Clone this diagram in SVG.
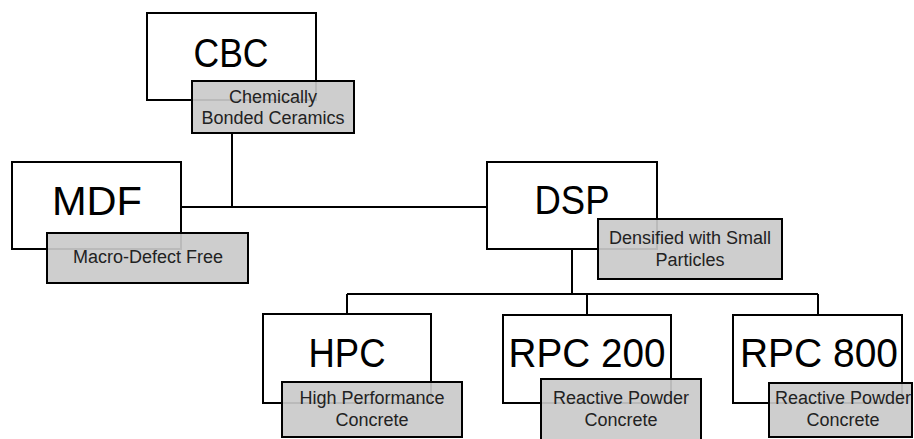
<svg xmlns="http://www.w3.org/2000/svg" width="914" height="439" viewBox="0 0 914 439">
<style>
.box{fill:#fff;stroke:#000;stroke-width:2}
.lab{fill:#cacaca;fill-opacity:0.92;stroke:#000;stroke-width:2}
.big{font-family:"Liberation Sans",Arial,sans-serif;font-size:40px;fill:#000;text-anchor:middle}
.sm{font-family:"Liberation Sans",Arial,sans-serif;font-size:18px;fill:#222;text-anchor:middle}
.con{fill:none;stroke:#000;stroke-width:2}
</style>
<rect width="914" height="439" fill="#fff"/>
<g id="connectors">
<path class="con" d="M232 133V207M181 207H487"/>
<path class="con" d="M572 249V294M347 294H818M347 294V315M587 294V315M818 294V315"/>
</g>
<g id="CBC">
<rect class="box" x="147" y="13" width="169" height="87"/>
<text class="big" x="231" y="67" textLength="75" lengthAdjust="spacingAndGlyphs">CBC</text>
<rect class="lab" x="192" y="81" width="162" height="52"/>
<text class="sm" x="273" y="103">Chemically</text>
<text class="sm" x="273" y="124">Bonded Ceramics</text>
</g>
<g id="MDF">
<rect class="box" x="12" y="162" width="169" height="87"/>
<text class="big" x="97" y="215" textLength="90" lengthAdjust="spacingAndGlyphs">MDF</text>
<rect class="lab" x="47" y="233" width="201" height="50"/>
<text class="sm" x="148" y="263">Macro-Defect Free</text>
</g>
<g id="DSP">
<rect class="box" x="487" y="162" width="170" height="87"/>
<text class="big" x="572" y="214" textLength="75" lengthAdjust="spacingAndGlyphs">DSP</text>
<rect class="lab" x="598" y="219" width="184" height="60"/>
<text class="sm" x="690" y="244">Densified with Small</text>
<text class="sm" x="690" y="266">Particles</text>
</g>
<g id="HPC">
<rect class="box" x="263" y="314" width="168" height="89"/>
<text class="big" x="347" y="367" textLength="77" lengthAdjust="spacingAndGlyphs">HPC</text>
<rect class="lab" x="282" y="382" width="180" height="55"/>
<text class="sm" x="372" y="404">High Performance</text>
<text class="sm" x="372" y="426">Concrete</text>
</g>
<g id="RPC200">
<rect class="box" x="503" y="315" width="168" height="88"/>
<text class="big" x="587" y="367" textLength="157" lengthAdjust="spacingAndGlyphs">RPC 200</text>
<rect class="lab" x="541" y="379" width="160" height="64"/>
<text class="sm" x="621" y="404">Reactive Powder</text>
<text class="sm" x="621" y="426">Concrete</text>
</g>
<g id="RPC800">
<rect class="box" x="733" y="315" width="169" height="88"/>
<text class="big" x="819" y="367" textLength="158" lengthAdjust="spacingAndGlyphs">RPC 800</text>
<rect class="lab" x="769" y="383" width="143" height="54"/>
<text class="sm" x="843" y="404">Reactive Powder</text>
<text class="sm" x="843" y="426">Concrete</text>
</g>
</svg>
